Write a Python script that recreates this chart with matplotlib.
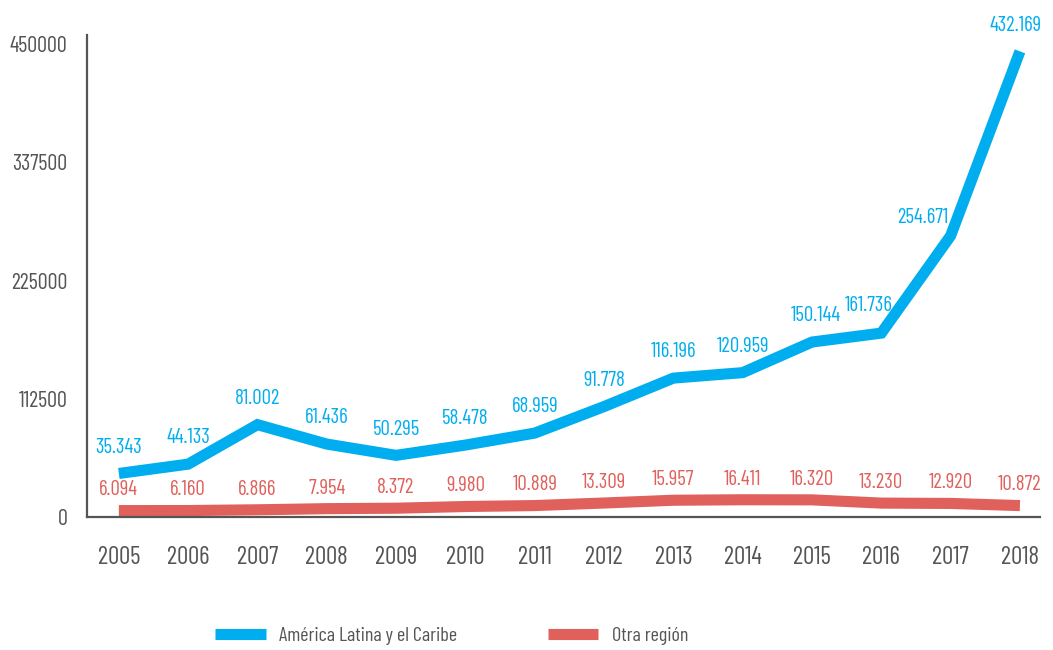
import numpy as np
import matplotlib.pyplot as plt
from matplotlib import font_manager

# datos
years = [2005, 2006, 2007, 2008, 2009, 2010, 2011, 2012, 2013, 2014, 2015, 2016, 2017, 2018]
latam = [35343, 44133, 81002, 61436, 50295, 58478, 68959, 91778, 116196, 120959, 150144, 161736, 254671, 432169]
otra = [6094, 6160, 6866, 7954, 8372, 9980, 10889, 13309, 15957, 16411, 16320, 13230, 12920, 10872]
yticks = [0, 112500, 225000, 337500, 450000]

# fuente condensada tipo DIN si existe
names = {f.name for f in font_manager.fontManager.ttflist}
fam = 'DejaVu Sans'
for cand in ['Barlow Condensed', 'Roboto Condensed', 'Barlow Semi Condensed',
             'Liberation Sans Narrow']:
    if cand in names:
        fam = cand
        break
plt.rcParams['font.family'] = [fam, 'DejaVu Sans']

azul = '#00AEEF'
rojo = '#E0605C'
gris = '#555555'

def fmt(v):
    return f'{v:,}'.replace(',', '.')

fig = plt.figure(figsize=(10.53, 6.5), dpi=100)
ax = fig.add_axes([0.0826, 0.2046, 0.9051, 0.7414])

# linea azul apilada sobre la otra region
total = np.array(latam) + np.array(otra)
ax.plot(years, total, color=azul, lw=8, solid_capstyle='butt', solid_joinstyle='miter',
        label='América Latina y el Caribe')
ax.plot(years, otra, color=rojo, lw=8, solid_capstyle='butt', solid_joinstyle='miter',
        label='Otra región')

# ajustes de posicion de algunas etiquetas (puntos)
off_azul = {2015: (3, 12), 2016: (-9, 13), 2017: (-20, 6), 2018: (-3, 12)}
for x, y, v in zip(years, total, latam):
    ax.annotate(fmt(v), (x, y), xytext=off_azul.get(x, (0, 12)), textcoords='offset points',
                ha='center', va='bottom', color=azul, fontsize=15, zorder=5)
for x, y, v in zip(years, otra, otra):
    ax.annotate(fmt(v), (x, y), xytext=(0, 8), textcoords='offset points',
                ha='center', va='bottom', color=rojo, fontsize=15, zorder=5)

ax.set_xlim(2004.54, 2018.29)
ax.set_ylim(0, 458500)
ax.set_xticks(years)
ax.set_yticks(yticks)
ax.set_yticklabels([str(t) for t in yticks])
ax.tick_params(length=0, colors=gris)
ax.tick_params(axis='x', pad=21, labelsize=18)
ax.tick_params(axis='y', pad=14, labelsize=16)
for s in ['top', 'right']:
    ax.spines[s].set_visible(False)
for s in ['left', 'bottom']:
    ax.spines[s].set_color(gris)
    ax.spines[s].set_linewidth(1.6)

fig.legend(loc='center', bbox_to_anchor=(0.429, 0.0215), ncol=2, frameon=False,
           fontsize=14.5, handlelength=2.5, handletextpad=0.67, columnspacing=4.5,
           labelcolor=gris)

fig.savefig('out.png', dpi=100)
